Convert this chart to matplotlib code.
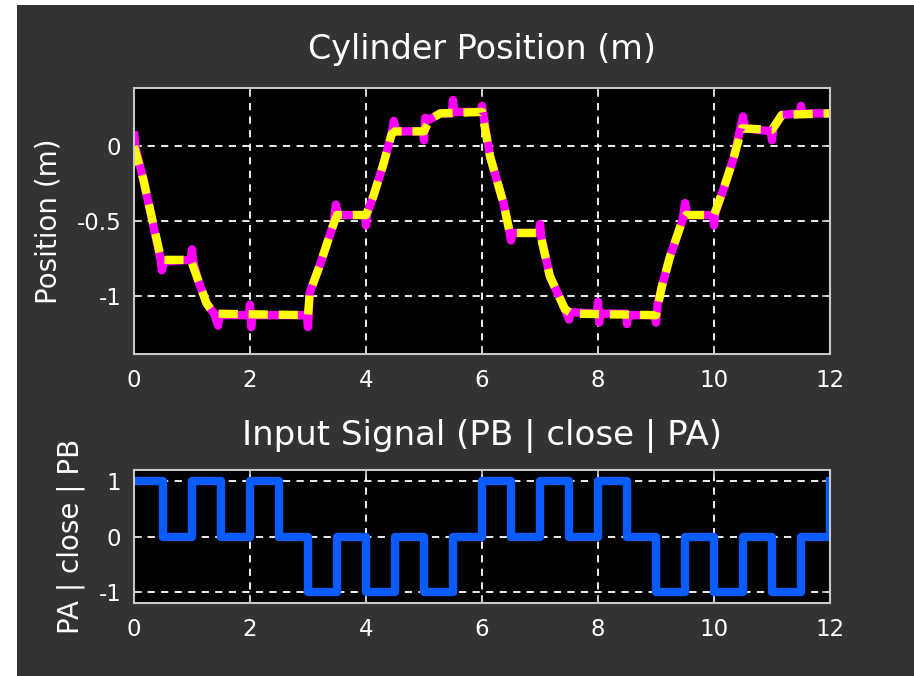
import matplotlib
matplotlib.use("Agg")
import matplotlib.pyplot as plt
from matplotlib.patches import Rectangle

plt.rcParams['axes.unicode_minus'] = False

# measured cylinder position (magenta, with sensor spikes)
mag_t = [0, 0.02, 0.16, 0.46, 0.48, 0.52, 0.98, 1.0, 1.02, 1.1, 1.25, 1.38,
         1.45, 1.47, 1.98, 2.0, 2.02, 2.04, 2.98, 3.0, 3.03, 3.2, 3.44, 3.48,
         3.52, 3.98, 4.0, 4.02, 4.13, 4.3, 4.44, 4.48, 4.52, 4.98, 5.0, 5.02,
         5.1, 5.28, 5.48, 5.5, 5.52, 5.98, 6.0, 6.02, 6.14, 6.37, 6.48, 6.5,
         6.52, 6.98, 7.0, 7.02, 7.17, 7.43, 7.5, 7.52, 7.98, 8.0, 8.02, 8.04,
         8.48, 8.5, 8.52, 8.98, 9.0, 9.03, 9.1, 9.24, 9.46, 9.5, 9.54, 9.98,
         10.0, 10.02, 10.16, 10.33, 10.46, 10.5, 10.54, 10.98, 11.0, 11.02,
         11.17, 11.48, 11.5, 11.52, 12.0]
mag_y = [0.10, 0.0, -0.22, -0.76, -0.83, -0.77, -0.76, -0.69, -0.77, -0.89,
         -1.05, -1.12, -1.20, -1.13, -1.13, -1.06, -1.21, -1.13, -1.13, -1.21,
         -0.98, -0.80, -0.52, -0.39, -0.46, -0.46, -0.53, -0.45, -0.33, -0.12,
         0.08, 0.17, 0.10, 0.10, 0.04, 0.19, 0.18, 0.22, 0.22, 0.31, 0.23,
         0.23, 0.27, 0.22, -0.07, -0.38, -0.58, -0.63, -0.58, -0.58, -0.52,
         -0.60, -0.87, -1.09, -1.16, -1.11, -1.12, -1.04, -1.18, -1.12, -1.12,
         -1.19, -1.13, -1.13, -1.18, -1.05, -0.94, -0.74, -0.49, -0.38, -0.46,
         -0.46, -0.53, -0.45, -0.29, -0.09, 0.13, 0.20, 0.12, 0.10, 0.04, 0.12,
         0.21, 0.22, 0.27, 0.22, 0.22]

# simulated cylinder position (yellow)
sim_t = [0, 0.16, 0.47, 0.98, 1.1, 1.25, 1.38, 3.0, 3.03, 3.2, 3.44, 3.5, 4.0,
         4.13, 4.3, 4.44, 4.5, 5.0, 5.1, 5.28, 6.0, 6.14, 6.37, 6.48, 7.0,
         7.17, 7.43, 7.55, 9.0, 9.1, 9.24, 9.46, 9.52, 10.0, 10.16, 10.33,
         10.48, 11.0, 11.17, 12.0]
sim_y = [0, -0.22, -0.76, -0.76, -0.89, -1.05, -1.12, -1.13, -0.98, -0.80,
         -0.52, -0.46, -0.46, -0.33, -0.12, 0.08, 0.10, 0.10, 0.18, 0.22, 0.23,
         -0.07, -0.38, -0.58, -0.58, -0.87, -1.09, -1.12, -1.13, -0.94, -0.74,
         -0.49, -0.46, -0.46, -0.29, -0.09, 0.12, 0.11, 0.21, 0.22]

# valve input signal
sig_t = [0, 0.5, 1, 1.5, 2, 2.5, 3, 3.5, 4, 4.5, 5, 5.5, 6, 6.5, 7, 7.5, 8,
         8.5, 9, 9.5, 10, 10.5, 11, 11.5, 12]
sig_v = [1, 0, 1, 0, 1, 0, -1, 0, -1, 0, -1, 0, 1, 0, 1, 0, 1, 0, -1, 0, -1,
         0, -1, 0, 1]

W, H = 914.0, 676.0
bg = '#333333'
edge = '#c8c8c8'

fig = plt.figure(figsize=(W/100, H/100), dpi=100, facecolor='white')
fig.add_artist(Rectangle((17/W, 0), 1 - 17/W, 1 - 5/H, transform=fig.transFigure,
                         facecolor=bg, edgecolor='none', zorder=-10))

ax1 = fig.add_axes([134/W, (H-354)/H, 696/W, 266/H])
ax2 = fig.add_axes([134/W, (H-603)/H, 696/W, 133/H])

for ax in (ax1, ax2):
    ax.set_facecolor('black')
    for s in ax.spines.values():
        s.set_color(edge)
        s.set_linewidth(1.5)
    ax.tick_params(direction='in', length=6, width=1.2, color=edge,
                   labelcolor='white', labelsize=16.5, top=True, right=True)
    ax.tick_params(axis='x', pad=11)
    ax.tick_params(axis='y', pad=9)
    ax.grid(True, color='white', linestyle=(0, (4, 3.5)), linewidth=1.3)
    ax.set_axisbelow(True)
    ax.set_xlim(0, 12)
    ax.set_xticks([0, 2, 4, 6, 8, 10, 12])

ax1.plot(mag_t, mag_y, '-', color='#ff00ff', linewidth=6,
         solid_joinstyle='round', solid_capstyle='butt')
ax1.plot(sim_t, sim_y, color='#ffff00', linewidth=6, linestyle=(0, (2.3, 1.3)),
         dash_joinstyle='round')
ax1.set_ylim(-1.39, 0.39)
ax1.set_yticks([-1, -0.5, 0])
ax1.set_yticklabels(['-1', '-0.5', '0'])
ax1.set_title('Cylinder Position (m)', color='white', fontsize=24, pad=21)
ax1.set_ylabel('Position (m)', color='white', fontsize=20, labelpad=10)

ax2.step(sig_t, sig_v, where='post', color='#0a5cff', linewidth=6)
ax2.set_ylim(-1.2, 1.2)
ax2.set_yticks([-1, 0, 1])
ax2.set_title('Input Signal (PB | close | PA)', color='white', fontsize=24.5, pad=18)
ax2.set_ylabel('PA | close | PB', color='white', fontsize=20, labelpad=10)

fig.savefig('out.png', dpi=100, facecolor=fig.get_facecolor())
